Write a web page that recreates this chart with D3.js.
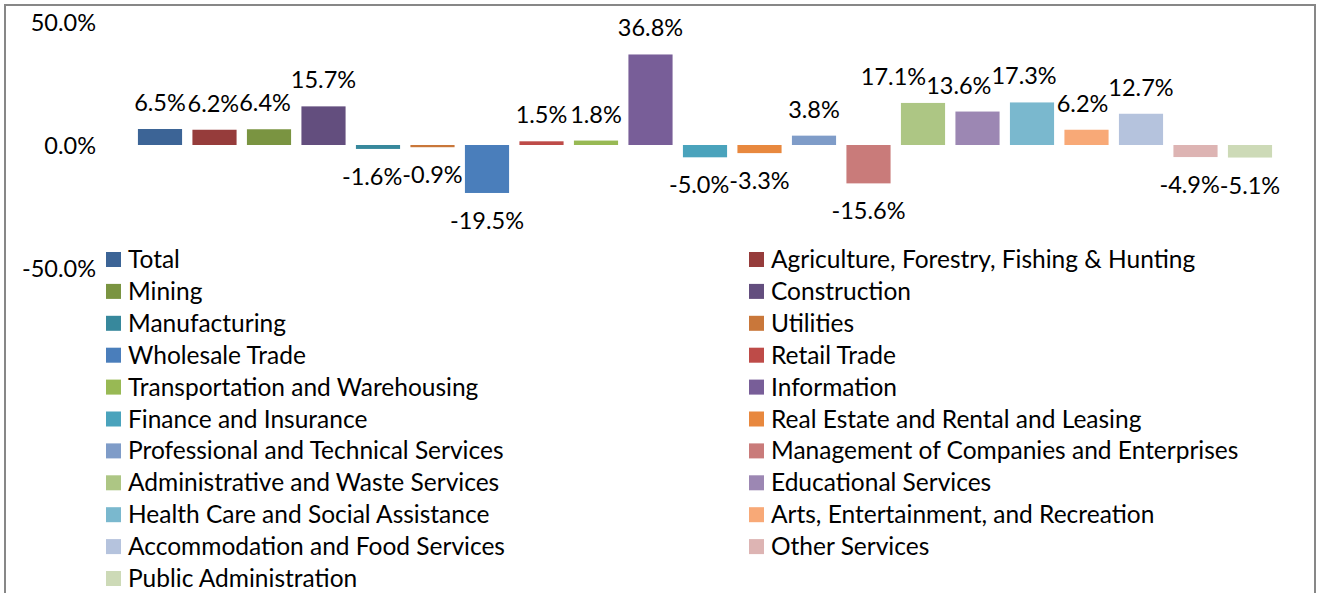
<!DOCTYPE html>
<html>
<head>
<meta charset="utf-8">
<script src="https://cdn.jsdelivr.net/npm/d3@7"></script>
<style>
  html, body { margin: 0; padding: 0; background: #fff; }
  svg { display: block; }
  text { font-family: Lato, "Open Sans", sans-serif; fill: #000; }
</style>
</head>
<body>
<svg id="chart" width="1318" height="593"></svg>
<script>

// industries, in the order of the bars and the legend
var industries = [
  "Total",
  "Agriculture, Forestry, Fishing & Hunting",
  "Mining",
  "Construction",
  "Manufacturing",
  "Utilities",
  "Wholesale Trade",
  "Retail Trade",
  "Transportation and Warehousing",
  "Information",
  "Finance and Insurance",
  "Real Estate and Rental and Leasing",
  "Professional and Technical Services",
  "Management of Companies and Enterprises",
  "Administrative and Waste Services",
  "Educational Services",
  "Health Care and Social Assistance",
  "Arts, Entertainment, and Recreation",
  "Accommodation and Food Services",
  "Other Services",
  "Public Administration"
];

// percent change
var changes = [6.5, 6.2, 6.4, 15.7, -1.6, -0.9, -19.5, 1.5, 1.8, 36.8, -5.0, -3.3, 3.8, -15.6, 17.1, 13.6, 17.3, 6.2, 12.7, -4.9, -5.1];

var colors = [
  "#3c6496", "#963c3b", "#7a9441", "#634e7e", "#37889c", "#c9773a",
  "#4a7ebb", "#be4b48", "#98b954", "#785e98", "#4aa3bc", "#e8883e",
  "#7f9cc8", "#c97b7a", "#adc684", "#9c87b3", "#7ab8ce", "#f8a977",
  "#b5c3dd", "#ddb4b3", "#cddab7"
];

var yTicks = [-50, 0, 50];

var svg = d3.select('#chart');
var fmt = function(v) { return d3.format('.1f')(v).replace('\u2212', '-') + '%'; };

// frame of the chart (bottom edge is cut off in the page)
svg.append('path')
  .attr('d', 'M5,600 L5,5 L1315,5 L1315,600')
  .attr('fill', 'none')
  .attr('stroke', '#878787')
  .attr('stroke-width', 2);

var x = d3.scaleBand()
  .domain(industries)
  .range([132.75, 1277.25])
  .paddingInner(0.19)
  .paddingOuter(0.095);

var y = d3.scaleLinear()
  .domain([-50, 50])
  .range([268, 22]);

// value axis, labels only
var yAxis = d3.axisLeft(y)
  .tickValues(yTicks)
  .tickSize(0)
  .tickPadding(0)
  .tickFormat(fmt);

var gy = svg.append('g')
  .attr('transform', 'translate(96,0)')
  .call(yAxis);
gy.select('.domain').remove();
gy.selectAll('text')
  .attr('font-family', 'Lato, "Open Sans", sans-serif')
  .attr('font-size', 23.5)
  .attr('fill', '#000')
  .attr('dy', '0.36em');

var data = industries.map(function(name, i) {
  return { name: name, value: changes[i], color: colors[i] };
});

svg.append('g').selectAll('rect')
  .data(data)
  .join('rect')
  .attr('x', function(d) { return x(d.name); })
  .attr('width', x.bandwidth())
  .attr('y', function(d) { return y(Math.max(0, d.value)); })
  .attr('height', function(d) { return Math.abs(y(d.value) - y(0)); })
  .attr('fill', function(d) { return d.color; });

var labels = svg.append('g').selectAll('text')
  .data(data)
  .join('text')
  .attr('x', function(d) { return x(d.name) + x.bandwidth() / 2; })
  .attr('y', function(d) { return d.value >= 0 ? y(d.value) - 18 : y(d.value) + 36; })
  .attr('text-anchor', 'middle')
  .attr('font-size', 23.5)
  .text(function(d) { return fmt(d.value); });

// push a label to the left when it runs into its right-hand neighbour
var nodes = labels.nodes();
for (var i = nodes.length - 2; i >= 0; i--) {
  var a = nodes[i].getBBox(), b = nodes[i + 1].getBBox();
  var vOverlap = a.y < b.y + b.height && b.y < a.y + a.height;
  var hOverlap = a.x + a.width - b.x;
  if (vOverlap && hOverlap > 0) {
    d3.select(nodes[i]).attr('x', +nodes[i].getAttribute('x') - hOverlap);
  }
}

// legend, two columns
var legendCols = [106, 749];
var legendTop = 252, legendRow = 31.9;

var lg = svg.append('g').selectAll('g')
  .data(data)
  .join('g')
  .attr('transform', function(d, i) {
    return 'translate(' + legendCols[i % 2] + ',' + (legendTop + Math.floor(i / 2) * legendRow) + ')';
  });

lg.append('rect')
  .attr('width', 15)
  .attr('height', 15)
  .attr('fill', function(d) { return d.color; });

lg.append('text')
  .attr('x', 22)
  .attr('y', 16)
  .attr('font-size', 24.5)
  .text(function(d) { return d.name; });

</script>
</body>
</html>
